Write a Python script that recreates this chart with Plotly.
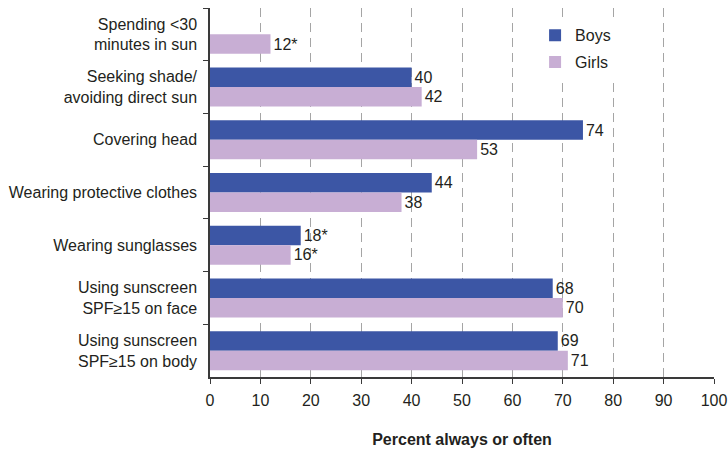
import plotly.graph_objects as go

categories = [
    "Spending <30<br>minutes in sun",
    "Seeking shade/<br>avoiding direct sun",
    "Covering head",
    "Wearing protective clothes",
    "Wearing sunglasses",
    "Using sunscreen<br>SPF≥15 on face",
    "Using sunscreen<br>SPF≥15 on body",
]
boys = [None, 40, 74, 44, 18, 68, 69]
boys_labels = ["", "40", "74", "44", "18*", "68", "69"]
girls = [12, 42, 53, 38, 16, 70, 71]
girls_labels = ["12*", "42", "53", "38", "16*", "70", "71"]
x_ticks = [0, 10, 20, 30, 40, 50, 60, 70, 80, 90, 100]

FONT = "Liberation Sans, Arial, sans-serif"
TXT = "#231f20"
FS = 16
PAD = "\u00a0\u00a0\u00a0"

fig = go.Figure()
fig.add_trace(go.Bar(
    y=categories, x=boys, name="Boys" + PAD, orientation="h",
    marker=dict(color="#3c56a5", line=dict(width=0)),
    text=boys_labels, textposition="outside", cliponaxis=False,
    textfont=dict(size=FS, color=TXT, family=FONT),
    legendgroup="b",
))
fig.add_trace(go.Bar(
    y=categories, x=girls, name="Girls" + PAD, orientation="h",
    marker=dict(color="#c8aed4", line=dict(width=0)),
    text=girls_labels, textposition="outside", cliponaxis=False,
    textfont=dict(size=FS, color=TXT, family=FONT),
    legendgroup="g",
))

fig.update_layout(
    width=728, height=449,
    margin=dict(l=210, r=14, t=8, b=72),
    barmode="group", bargap=0.26, bargroupgap=0.0,
    plot_bgcolor="white", paper_bgcolor="white",
    font=dict(family=FONT, size=FS, color=TXT),
    showlegend=True,
    legend=dict(
        x=0.645, y=0.972, xanchor="left", yanchor="top",
        bgcolor="white", borderwidth=0,
        font=dict(size=FS, color=TXT, family=FONT),
        tracegroupgap=3, itemwidth=30,
    ),
    xaxis=dict(
        range=[0, 100], tickvals=x_ticks, ticktext=[str(v) for v in x_ticks],
        showgrid=True, gridcolor="#a5a5a5", gridwidth=1, griddash="9px,6px",
        showline=True, linecolor="#3a3a3a", linewidth=1.5,
        ticks="outside", ticklen=5, tickcolor="#3a3a3a", tickwidth=1,
        ticklabelstandoff=3,
        zeroline=False, automargin=False,
        title=dict(text="<b>Percent always or often</b>", standoff=26,
                   font=dict(size=FS, color=TXT, family=FONT)),
    ),
    yaxis=dict(
        autorange="reversed", automargin=False,
        showgrid=False, showline=True, linecolor="#3a3a3a", linewidth=1.5,
        ticks="outside", tickson="boundaries", ticklen=5, tickcolor="#3a3a3a",
        ticklabelstandoff=8,
    ),
)

fig.write_html("out.html", config={"displayModeBar": False},
               post_script="document.body.style.margin='0';")
